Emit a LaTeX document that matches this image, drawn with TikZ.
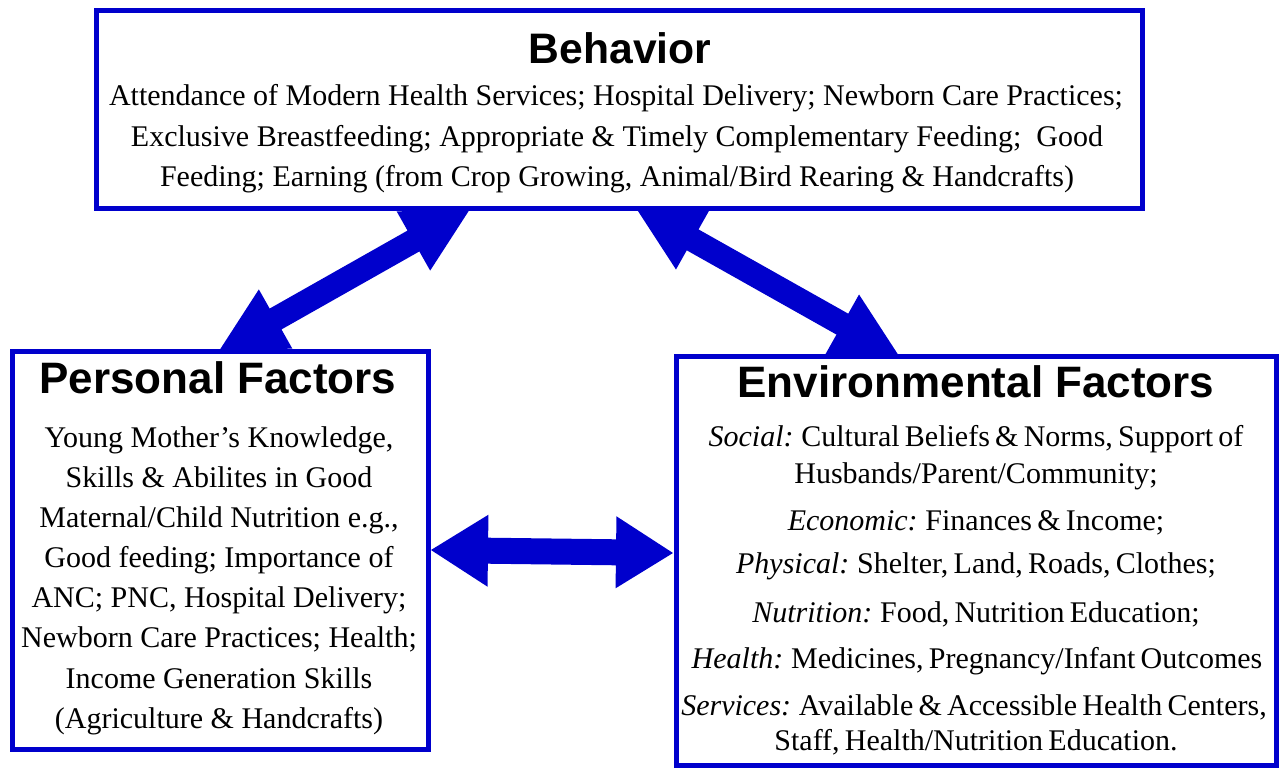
\documentclass[tikz,border=0pt]{standalone}
\usepackage{fontspec}
\setmainfont{Liberation Serif}
\newfontfamily\headfont{Liberation Sans}
\newfontfamily\envfont{Liberation Serif}[WordSpace=0.7]
\usetikzlibrary{calc,backgrounds}
\definecolor{boxblue}{HTML}{0000CC}
\tikzset{
  box/.style={draw=boxblue, line width=3.75pt, fill=white, rectangle, inner sep=0pt, outer sep=0pt},
  ttl/.style={anchor=base, font=\headfont\bfseries\fontsize{32}{36}\selectfont, inner sep=0pt},
  ttlbig/.style={anchor=base, font=\headfont\bfseries\fontsize{33}{36}\selectfont, inner sep=0pt},
  txt/.style={anchor=base, font=\fontsize{22.5}{27}\selectfont, inner sep=0pt},
  etxt/.style={anchor=base, font=\envfont\fontsize{22.5}{27}\selectfont, inner sep=0pt},
  arrowfill/.style={fill=boxblue},
}
% #1,#2 tips; #3/#4 distance/angle of head corner; #5/#6 distance/angle of shaft corner
\newcommand\blockarrow[6]{%
  \fill[arrowfill] (#1) -- ($(#1)!#3!#4:(#2)$) -- ($(#1)!#5!#6:(#2)$)
    -- ($(#2)!#5!-#6:(#1)$) -- ($(#2)!#3!-#4:(#1)$) -- (#2)
    -- ($(#2)!#3!#4:(#1)$) -- ($(#2)!#5!#6:(#1)$)
    -- ($(#1)!#5!-#6:(#2)$) -- ($(#1)!#3!-#4:(#2)$) -- cycle;}
\begin{document}
\begin{tikzpicture}[x=0.75pt,y=-0.75pt]
\useasboundingbox (0,0) rectangle (1281,768);
% boxes
\node[box, minimum width=784.5pt, minimum height=148.5pt] (beh) at (619,109) {};
\node[box, minimum width=312pt, minimum height=298.5pt] (pers) at (220,550) {};
\node[box, minimum width=450pt, minimum height=306.75pt] (env) at (976,560.5) {};
% Behavior text
\node[ttl] (behT) at (620,63) {Behavior};
\node[txt] (b1) at (616,105) {Attendance of Modern Health Services; Hospital Delivery; Newborn Care Practices;};
\node[txt] (b2) at (617,146) {Exclusive Breastfeeding; Appropriate \& Timely Complementary Feeding;\ \ Good};
\node[txt] (b3) at (617,186) {Feeding; Earning (from Crop Growing, Animal/Bird Rearing \& Handcrafts)};
% Personal text
\node[ttlbig] (persT) at (218,393) {Personal Factors};
\node[txt] (p1) at (219,447) {Young Mother’s Knowledge,};
\node[txt] (p2) at (219,487) {Skills \& Abilites in Good};
\node[txt] (p3) at (219,527) {Maternal/Child Nutrition e.g.,};
\node[txt] (p4) at (219,567) {Good feeding; Importance of};
\node[txt] (p5) at (219,607) {ANC; PNC, Hospital Delivery;};
\node[txt] (p6) at (219,647) {Newborn Care Practices; Health;};
\node[txt] (p7) at (219,688) {Income Generation Skills};
\node[txt] (p8) at (219,728) {(Agriculture \& Handcrafts)};
% Environmental text
\node[ttlbig] (envT) at (976,397) {Environmental Factors};
\node[etxt] (e1) at (976,446) {\textit{Social:} Cultural Beliefs \& Norms, Support of};
\node[etxt] (e2) at (976,483) {Husbands/Parent/Community;};
\node[etxt] (e3) at (976,530) {\textit{Economic:} Finances \& Income;};
\node[etxt] (e4) at (976,573) {\textit{Physical:} Shelter, Land, Roads, Clothes;};
\node[etxt] (e5) at (976,622) {\textit{Nutrition:} Food, Nutrition Education;};
\node[etxt] (e6) at (977,668) {\textit{Health:} Medicines, Pregnancy/Infant Outcomes};
\node[etxt] (e7) at (974,715) {\textit{Services:} Available \& Accessible Health Centers,};
\node[etxt] (e8) at (976,750) {Staff, Health/Nutrition Education.};
% arrow tips
\coordinate (la) at ($(pers.north west)+(207,0)$);
\coordinate (lb) at ($(beh.south west)+(374,1)$);
\coordinate (ra) at ($(beh.south west)+(540,0)$);
\coordinate (rb) at ($(env.north west)+(223,0)$);
\coordinate (ha) at ($(pers.east)+(3,0)$);
\coordinate (hb) at ($(env.west)+(-3,-7.5)$);
\begin{scope}[on background layer]
\blockarrow{la}{lb}{55.02pt}{27.61}{49.57pt}{10.46}
\blockarrow{ra}{rb}{55.02pt}{27.61}{49.57pt}{10.46}
\blockarrow{ha}{hb}{50.56pt}{32.28}{43.85pt}{12.85}
\end{scope}
\end{tikzpicture}
\end{document}
